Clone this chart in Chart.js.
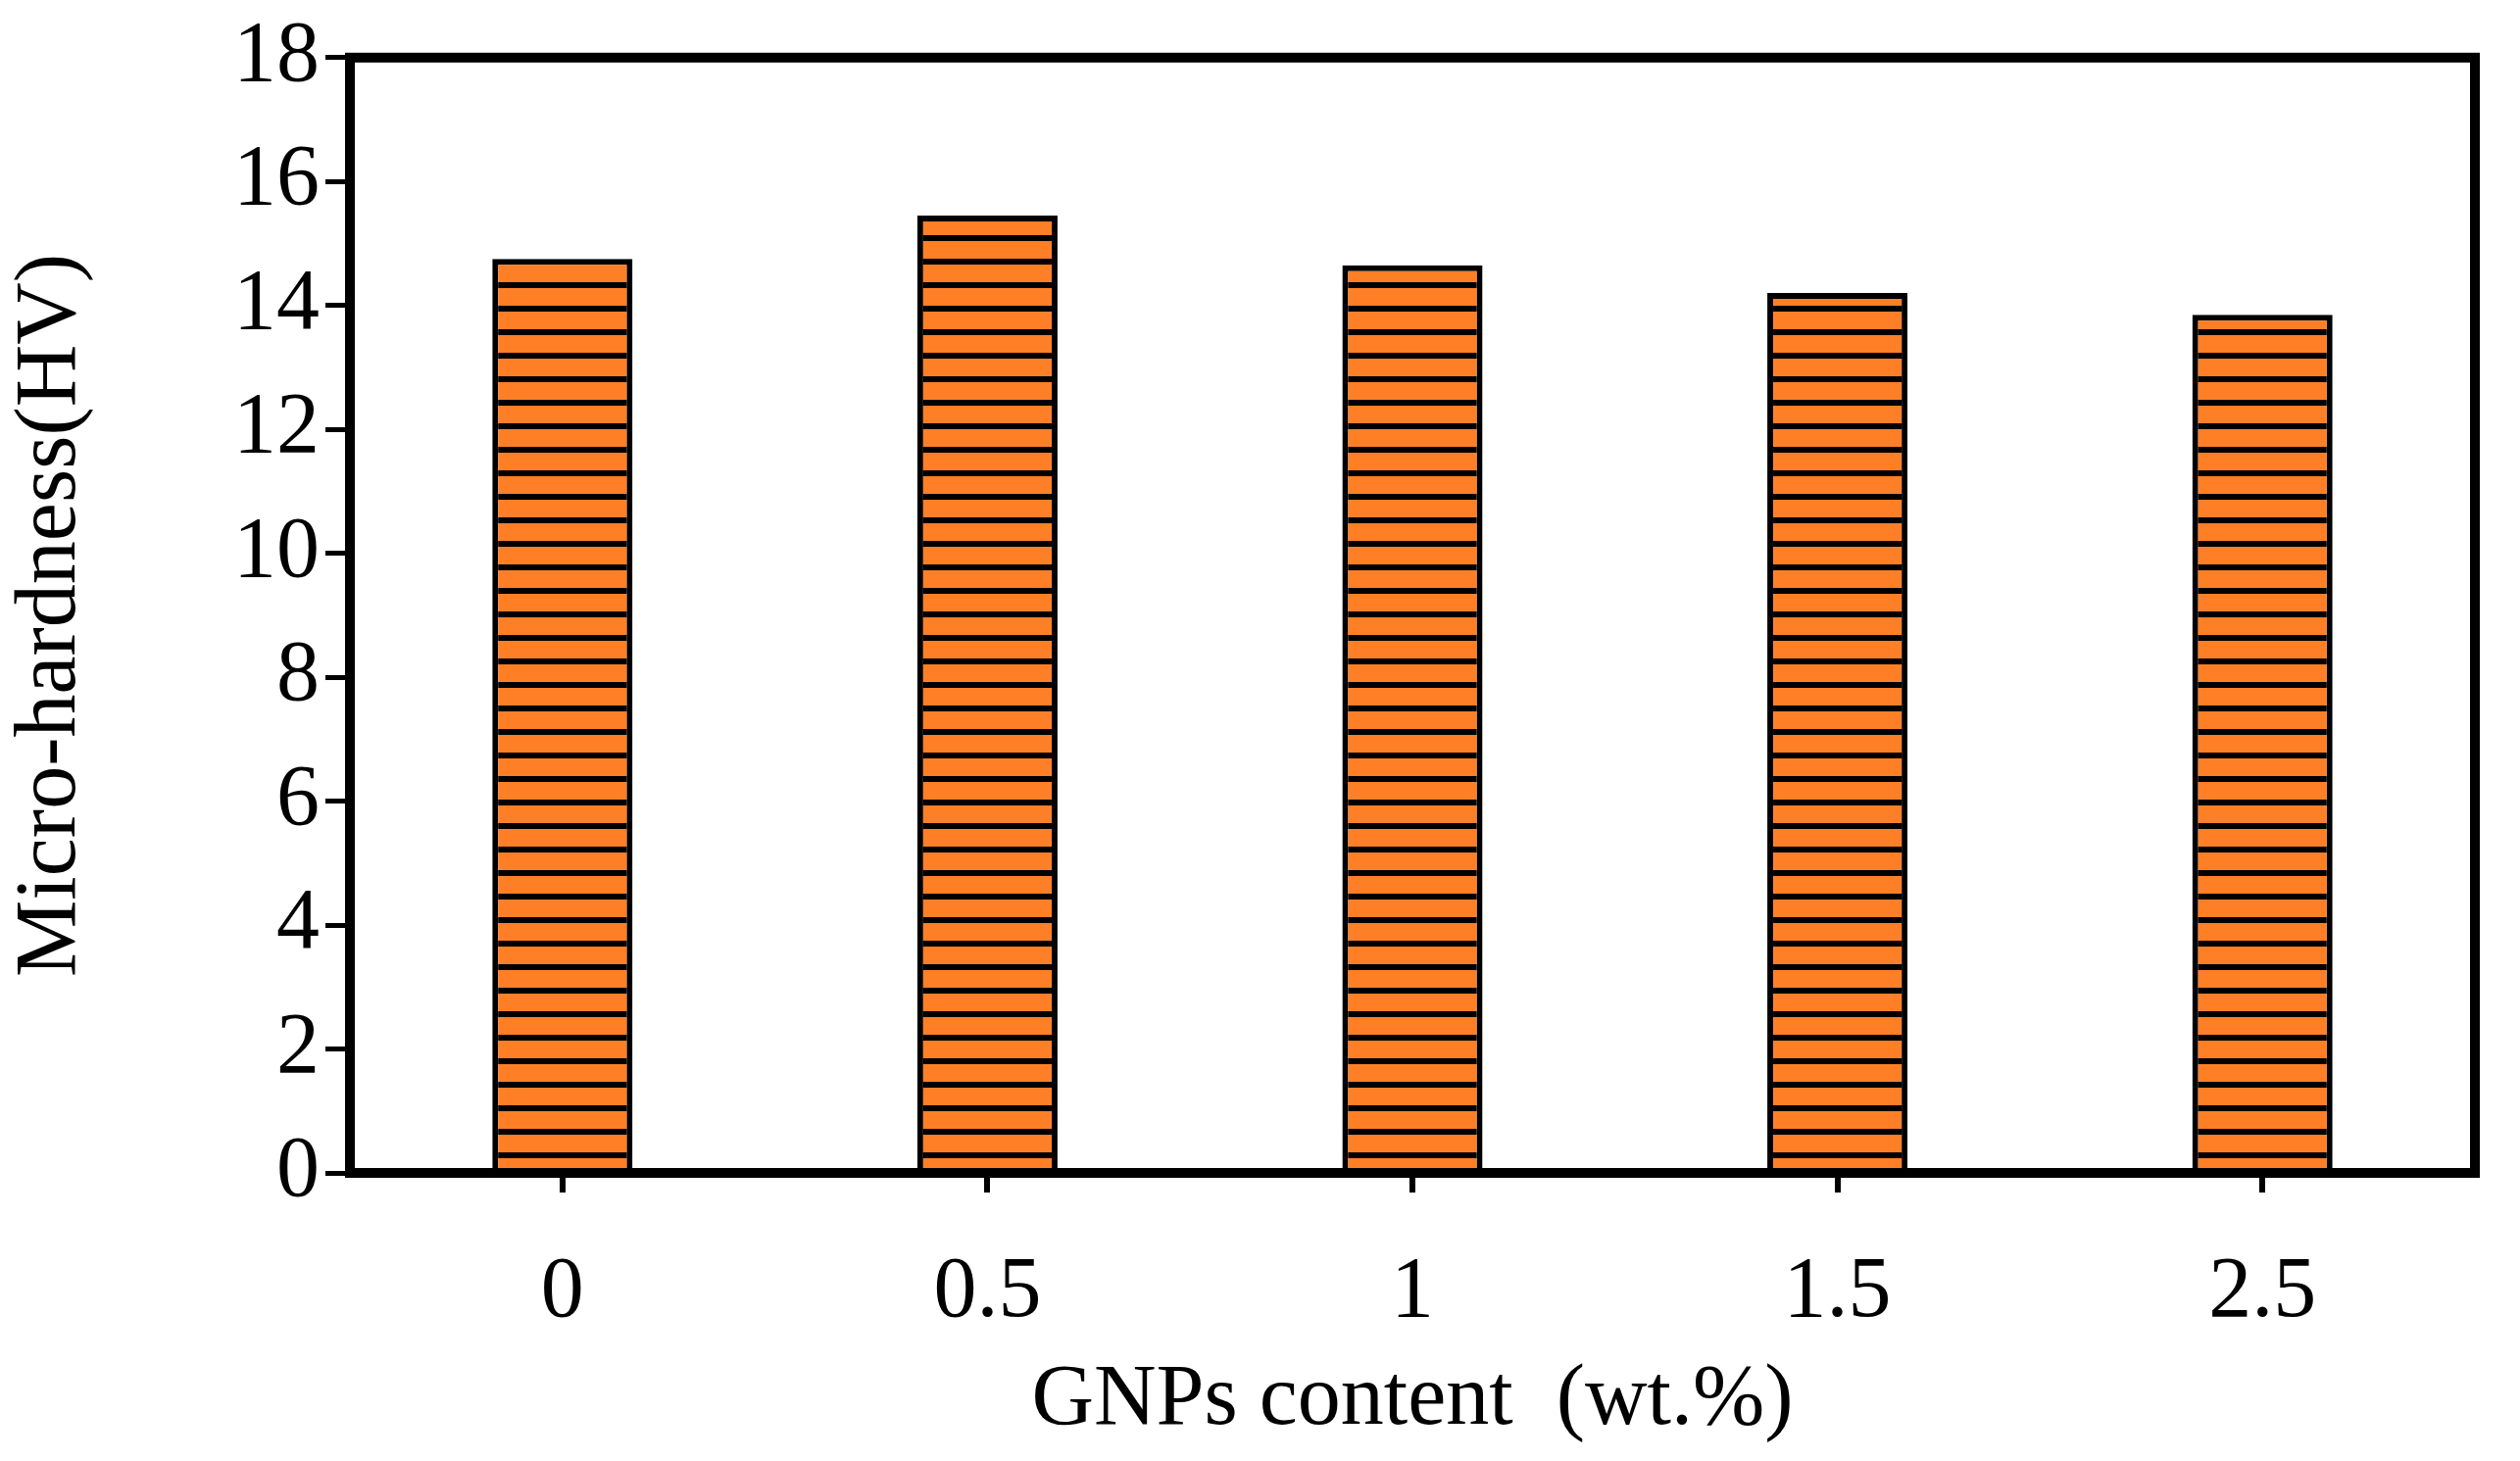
<!DOCTYPE html>
<html><head><script src="https://cdn.jsdelivr.net/npm/chart.js@4"></script>
<style>html,body{margin:0;padding:0;background:#fff}#w{width:2571px;height:1491px}</style></head>
<body><div id="w"><canvas id="c"></canvas></div>
<script>
const categories=['0','0.5','1','1.5','2.5'];
const hardness=[14.75,15.45,14.65,14.2,13.85];
const yTicks=[0,2,4,6,8,10,12,14,16,18];

const pc=document.createElement('canvas');pc.width=8;pc.height=24;
const px=pc.getContext('2d');px.fillStyle='#FF7F27';px.fillRect(0,0,8,24);px.fillStyle='#000';px.fillRect(0,0,8,6);
const pattern=px.createPattern(pc,'repeat');

const box={id:'box',afterDraw(ch){const a=ch.chartArea,c=ch.ctx;c.save();c.strokeStyle='#000';c.lineWidth=10;c.strokeRect(a.left,a.top,a.right-a.left,a.bottom-a.top);c.restore();}};
const font={family:'Liberation Serif',size:88};
new Chart(document.getElementById('c'),{type:'bar',
data:{labels:categories,datasets:[{data:hardness,backgroundColor:pattern,borderColor:'#000',borderWidth:6,categoryPercentage:1,barPercentage:0.33}]},
options:{responsive:true,maintainAspectRatio:false,animation:false,devicePixelRatio:1,
layout:{padding:{top:52,right:46,left:0,bottom:0}},
plugins:{legend:{display:false},tooltip:{enabled:false}},
scales:{
x:{afterFit(s){s.height=294},grid:{offset:false,drawOnChartArea:false,color:'#000',lineWidth:6,tickLength:20},border:{color:'#000',width:10},
ticks:{font,color:'#000',padding:50},title:{display:true,text:'GNPs content  (wt.%)',font,color:'#000',padding:{top:0,bottom:8}}},
y:{min:0,max:18,afterFit(s){s.width=357},afterBuildTicks(s){s.ticks=yTicks.map(v=>({value:v}))},grid:{drawOnChartArea:false,color:'#000',lineWidth:5,tickLength:25},border:{color:'#000',width:10},
ticks:{font,color:'#000',padding:6},title:{display:true,text:'Micro-hardness(HV)',font,color:'#000',padding:{top:0,bottom:10}}}
}},plugins:[box]});
</script></body></html>
